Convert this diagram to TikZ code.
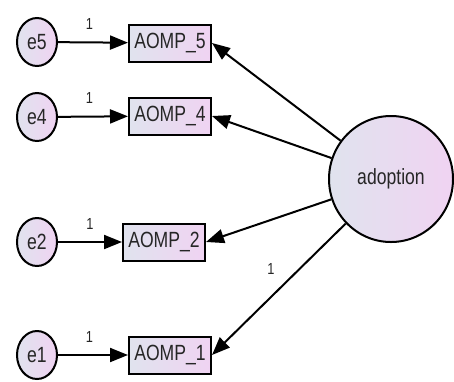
\documentclass[tikz,border=0pt]{standalone}
\usepackage{fontspec}
\setmainfont{Liberation Sans}
\usetikzlibrary{arrows.meta,shapes.geometric}
\definecolor{fillL}{HTML}{E0E3EE}
\definecolor{fillR}{HTML}{F0D3F2}
\definecolor{txt}{HTML}{262626}
% condensed label text
\newcommand{\cond}[1]{\scalebox{0.8}[1]{#1}}

\begin{document}
\begin{tikzpicture}[x=1pt,y=-1pt,
  err/.style={ellipse, draw, line width=2pt, minimum width=40pt, minimum height=48pt,
    inner sep=0pt, left color=fillL, right color=fillR, text=txt,
    font=\fontsize{22}{22}\selectfont},
  obs/.style={rectangle, draw, line width=2pt, minimum width=82pt, minimum height=37pt,
    inner sep=0pt, left color=fillL, right color=fillR, text=txt,
    font=\fontsize{22}{22}\selectfont},
  lat/.style={ellipse, draw, line width=2pt, minimum width=124pt, minimum height=126pt,
    inner sep=0pt, left color=fillL, right color=fillR, text=txt,
    font=\fontsize{22}{22}\selectfont},
  reg/.style={line width=2pt, -{Triangle[length=18pt,width=14pt]}},
  wt/.style={font=\fontsize{16}{16}\selectfont, text=txt, inner sep=0pt}
]
\useasboundingbox (0,0) rectangle (454,381);

% error terms
\node[err] (e5) at (37,42)  {\cond{e5}};
\node[err] (e4) at (37,117) {\cond{e4}};
\node[err] (e2) at (37,242) {\cond{e2}};
\node[err] (e1) at (37,355) {\cond{e1}};

% observed indicators
\node[obs] (b5) at (170,43)  {\cond{AOMP\_5}};
\node[obs] (b4) at (170,116) {\cond{AOMP\_4}};
\node[obs] (b2) at (164,242) {\cond{AOMP\_2}};
\node[obs] (b1) at (170,355) {\cond{AOMP\_1}};

% latent factor
\node[lat] (ad) at (391,179) {\cond{adoption}};

% error paths
\draw[reg] (e5) -- node[wt, pos=0.45, above=12pt] {\cond{1}} (b5);
\draw[reg] (e4) -- node[wt, pos=0.45, above=12pt] {\cond{1}} (b4);
\draw[reg] (e2) -- node[wt, pos=0.5, above=12pt] {\cond{1}} (b2);
\draw[reg] (e1) -- node[wt, pos=0.45, above=12pt] {\cond{1}} (b1);

% factor loadings
\draw[reg] (ad) -- (b5.east);
\draw[reg] (ad) -- (b4.east);
\draw[reg] (ad) -- (b2.east);
\draw[reg] (ad) -- node[wt, pos=0.5, xshift=-8pt, yshift=20pt] {\cond{1}} (b1.east);
\end{tikzpicture}
\end{document}
